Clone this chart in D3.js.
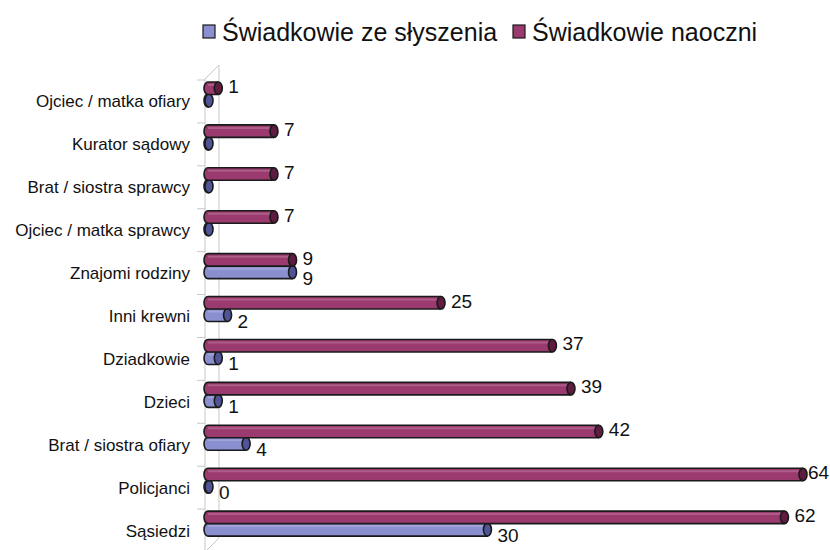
<!DOCTYPE html>
<html>
<head>
<meta charset="utf-8">
<script src="https://cdn.jsdelivr.net/npm/d3@7"></script>
<style>
  body { margin: 0; background: #fff; }
  text { font-family: "Liberation Sans", Arial, sans-serif; fill: #111; }
</style>
</head>
<body>
<div id="chart"></div>
<script>
const categories = ["Ojciec / matka ofiary", "Kurator sądowy", "Brat / siostra sprawcy",
    "Ojciec / matka sprawcy", "Znajomi rodziny", "Inni krewni", "Dziadkowie", "Dzieci",
    "Brat / siostra ofiary", "Policjanci", "Sąsiedzi"]
const naoczni = [1, 7, 7, 7, 9, 25, 37, 39, 42, 64, 62]
const zeSlyszenia = [0, 0, 0, 0, 9, 2, 1, 1, 4, 0, 30]
const seriesNames = ["Świadkowie ze słyszenia", "Świadkowie naoczni"]

const width = 830, height = 550
const col_blue = "#8a8fd0", col_blue_dark = "#4f5496",
    col_mag = "#9b3a6e", col_mag_dark = "#5e1c40", outline = "#1a1a1a"

const svg = d3.select("#chart").append("svg")
    .attr("width", width).attr("height", height)

const x = d3.scaleLinear().domain([0, 64]).range([208, 802])
const y = d3.scaleBand().domain(categories).range([80, 552])

// walls
const wall = svg.append("g").attr("stroke", "#c8c8c8").attr("fill", "none")
wall.append("line").attr("x1", 205).attr("x2", 205).attr("y1", 79).attr("y2", 552)
wall.append("line").attr("x1", 219).attr("x2", 219).attr("y1", 65).attr("y2", 538)
wall.append("line").attr("x1", 205).attr("x2", 219).attr("y1", 79).attr("y2", 65)
wall.append("line").attr("x1", 205).attr("x2", 219).attr("y1", 552).attr("y2", 538)
// ticks at band edges
categories.concat([null]).forEach((c, i) => {
    let yy = 80 + i * y.step()
    wall.append("line").attr("x1", 197).attr("x2", 205).attr("y1", yy).attr("y2", yy)
})

// category labels
svg.append("g").selectAll("text").data(categories).join("text")
    .attr("x", 190)
    .attr("y", d => y(d) + y.bandwidth() / 2 + 6)
    .attr("text-anchor", "end")
    .attr("font-size", 17)
    .text(d => d)

function cylinder(g, x0, x1, yTop, h, fill, dark) {
    const rx = 4, ry = h / 2, cy = yTop + h / 2
    const bar = g.append("g")
    bar.append("path")
        .attr("d", `M${x1},${yTop} L${x0},${yTop} A${rx},${ry} 0 0 0 ${x0},${yTop + h} L${x1},${yTop + h}`)
        .attr("fill", fill).attr("stroke", outline).attr("stroke-width", 1.6)
    bar.append("line")
        .attr("x1", x0).attr("x2", x1).attr("y1", yTop + 3).attr("y2", yTop + 3)
        .attr("stroke", "#fff").attr("stroke-opacity", 0.18).attr("stroke-width", 2)
    bar.append("ellipse")
        .attr("cx", x1).attr("cy", cy).attr("rx", rx).attr("ry", ry)
        .attr("fill", dark).attr("stroke", outline).attr("stroke-width", 1.6)
}

const bars = svg.append("g")
categories.forEach((c, i) => {
    let b = y(c)
    // blue (lower)
    cylinder(bars, x(0), x(zeSlyszenia[i]) + 1, b + 14, 13, col_blue, col_blue_dark)
    // magenta (upper)
    cylinder(bars, x(0), x(naoczni[i]) + 1, b + 2, 12.5, col_mag, col_mag_dark)
})

// value labels
const labels = svg.append("g").attr("font-size", 19)
categories.forEach((c, i) => {
    let b = y(c)
    labels.append("text").attr("x", Math.min(x(naoczni[i]) + 11, 808)).attr("y", b + 13).text(naoczni[i])
    if (i >= 4)
        labels.append("text").attr("x", x(zeSlyszenia[i]) + 11).attr("y", b + 33).text(zeSlyszenia[i])
})

// legend
const legend = svg.append("g")
const legendX = [203, 513]
seriesNames.forEach((s, i) => {
    legend.append("rect").attr("x", legendX[i]).attr("y", 25).attr("width", 12).attr("height", 13)
        .attr("fill", i == 0 ? col_blue : col_mag).attr("stroke", outline).attr("stroke-width", 1.2)
    legend.append("text").attr("x", legendX[i] + 19).attr("y", 41).attr("font-size", 25).text(s)
})
</script>
</body>
</html>
